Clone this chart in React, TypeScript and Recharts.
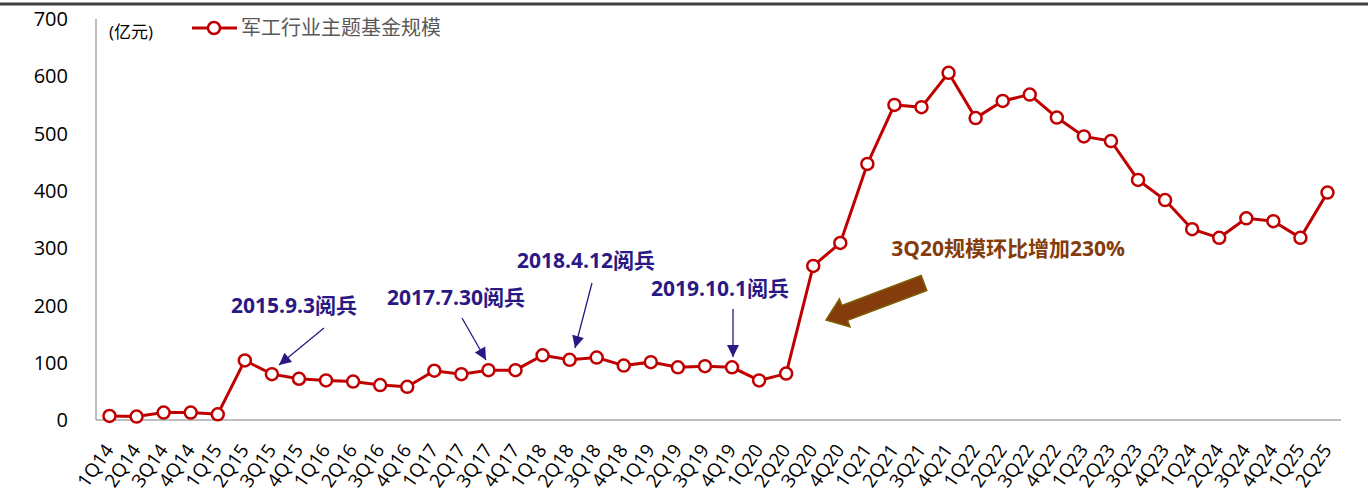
import { LineChart, Line, XAxis, YAxis } from 'recharts';

// ──────────────────────────────────────────────────────────
// Data
// ──────────────────────────────────────────────────────────

const QUARTERS = [
  '1Q14', '2Q14', '3Q14', '4Q14',
  '1Q15', '2Q15', '3Q15', '4Q15',
  '1Q16', '2Q16', '3Q16', '4Q16',
  '1Q17', '2Q17', '3Q17', '4Q17',
  '1Q18', '2Q18', '3Q18', '4Q18',
  '1Q19', '2Q19', '3Q19', '4Q19',
  '1Q20', '2Q20', '3Q20', '4Q20',
  '1Q21', '2Q21', '3Q21', '4Q21',
  '1Q22', '2Q22', '3Q22', '4Q22',
  '1Q23', '2Q23', '3Q23', '4Q23',
  '1Q24', '2Q24', '3Q24', '4Q24',
  '1Q25', '2Q25',
];

// 军工行业主题基金规模 (亿元)
const FUND_SIZE = [
  7, 6, 13, 13,
  10, 104, 80, 72,
  69, 67, 61, 58,
  86, 80, 87, 87,
  113, 105, 109, 95,
  101, 92, 94, 92,
  69, 81, 269, 309,
  447, 550, 546, 606,
  527, 557, 568, 528,
  495, 487, 419, 384,
  333, 318, 352, 347,
  318, 397,
];

const Y_TICKS = [0, 100, 200, 300, 400, 500, 600, 700];

const SERIES_NAME = '军工行业主题基金规模';
const UNIT_LABEL = '(亿元)';

const PARADE_LABELS = ['2015.9.3阅兵', '2017.7.30阅兵', '2018.4.12阅兵', '2019.10.1阅兵'];
const GROWTH_LABEL = '3Q20规模环比增加230%';

// ──────────────────────────────────────────────────────────
// Styles
// ──────────────────────────────────────────────────────────

const WIDTH = 1368;
const HEIGHT = 499;
const FONT = '"Open Sans", "Noto Sans CJK SC", sans-serif';
const RED = '#C00000';
const AXIS_GRAY = '#7f7f7f';
const NAVY = '#2A1985';
const BROWN = '#843C0C';

const chartData = QUARTERS.map((q, i) => ({ quarter: q, size: FUND_SIZE[i] }));

function QuarterTick({ x, y, payload }: any) {
  const px = x + 5;
  const py = y + 30;
  return (
    <text
      x={px}
      y={py}
      fontSize={19}
      fill="#000"
      textAnchor="end"
      transform={`rotate(-55, ${px}, ${py})`}
    >
      {payload.value}
    </text>
  );
}

// label centre + arrow from/to, in page pixels
const PARADE_POS = [
  { tx: 294, ty: 305, x1: 324, y1: 328, x2: 279, y2: 365 },
  { tx: 456, ty: 297, x1: 462, y1: 318, x2: 486, y2: 360 },
  { tx: 586, ty: 260, x1: 592, y1: 283, x2: 575, y2: 348 },
  { tx: 720, ty: 288, x1: 733, y1: 309, x2: 733, y2: 357 },
];

function arrowHead(x1: number, y1: number, x2: number, y2: number, len: number, half: number) {
  const dx = x2 - x1;
  const dy = y2 - y1;
  const l = Math.hypot(dx, dy);
  const ux = dx / l;
  const uy = dy / l;
  const bx = x2 - ux * len;
  const by = y2 - uy * len;
  return `${x2},${y2} ${bx - uy * half},${by + ux * half} ${bx + uy * half},${by - ux * half}`;
}

function blockArrow(x1: number, y1: number, x2: number, y2: number) {
  const dx = x2 - x1;
  const dy = y2 - y1;
  const l = Math.hypot(dx, dy);
  const ux = dx / l;
  const uy = dy / l;
  const nx = -uy;
  const ny = ux;
  const shaft = 8;
  const head = 15;
  const headLen = 20;
  const bx = x2 - ux * headLen;
  const by = y2 - uy * headLen;
  const pts = [
    [x1 + nx * shaft, y1 + ny * shaft],
    [bx + nx * shaft, by + ny * shaft],
    [bx + nx * head, by + ny * head],
    [x2, y2],
    [bx - nx * head, by - ny * head],
    [bx - nx * shaft, by - ny * shaft],
    [x1 - nx * shaft, y1 - ny * shaft],
  ];
  return pts.map((p) => p.join(',')).join(' ');
}

function Overlay() {
  return (
    <svg
      width={WIDTH}
      height={HEIGHT}
      style={{ position: 'absolute', left: 0, top: 0, pointerEvents: 'none' }}
    >
      <line x1={0} y1={4} x2={WIDTH} y2={4} stroke="#404040" strokeWidth={3} />

      <text x={109} y={38} fontSize={17} fill="#000">{UNIT_LABEL}</text>

      {/* legend */}
      <line x1={192} y1={28} x2={237} y2={28} stroke={RED} strokeWidth={3} />
      <circle cx={214} cy={28} r={6} fill="#fff" stroke={RED} strokeWidth={2.5} />
      <text x={241} y={35} fontSize={20} fill="#595959">{SERIES_NAME}</text>

      {/* parade annotations */}
      {PARADE_LABELS.map((label, i) => {
        const p = PARADE_POS[i];
        return (
          <g key={label}>
            <text
              x={p.tx}
              y={p.ty}
              fontSize={21}
              fontWeight="bold"
              fill={NAVY}
              textAnchor="middle"
              dominantBaseline="central"
            >
              {label}
            </text>
            <line x1={p.x1} y1={p.y1} x2={p.x2} y2={p.y2} stroke={NAVY} strokeWidth={1.3} />
            <polygon points={arrowHead(p.x1, p.y1, p.x2, p.y2, 12, 6)} fill={NAVY} />
          </g>
        );
      })}

      {/* 3Q20 growth callout */}
      <text
        x={1008}
        y={248}
        fontSize={21}
        fontWeight="bold"
        fill={BROWN}
        textAnchor="middle"
        dominantBaseline="central"
      >
        {GROWTH_LABEL}
      </text>
      <polygon
        points={blockArrow(924, 283, 826, 320)}
        fill={BROWN}
        stroke="#7F6000"
        strokeWidth={1.5}
      />
    </svg>
  );
}

export default function App() {
  return (
    <div
      style={{
        position: 'absolute',
        left: 0,
        top: 0,
        width: WIDTH,
        height: HEIGHT,
        background: '#fff',
        fontFamily: FONT,
      }}
    >
      <LineChart
        width={WIDTH}
        height={HEIGHT}
        data={chartData}
        margin={{ top: 19, right: 27, bottom: 0, left: 0 }}
      >
        <XAxis
          dataKey="quarter"
          interval={0}
          height={79}
          padding={{ left: 13.5, right: 13.5 }}
          tickLine={false}
          tickSize={0}
          tickMargin={0}
          stroke={AXIS_GRAY}
          tick={<QuarterTick />}
        />
        <YAxis
          width={96}
          domain={[0, 700]}
          ticks={Y_TICKS}
          tickLine={false}
          tickSize={0}
          tickMargin={28}
          stroke={AXIS_GRAY}
          tick={{ fontSize: 20, fill: '#000' }}
        />
        <Line
          type="linear"
          dataKey="size"
          name={SERIES_NAME}
          stroke={RED}
          strokeWidth={3}
          dot={{ r: 6, fill: '#fff', stroke: RED, strokeWidth: 2.5 }}
          isAnimationActive={false}
        />
      </LineChart>
      <Overlay />
    </div>
  );
}
